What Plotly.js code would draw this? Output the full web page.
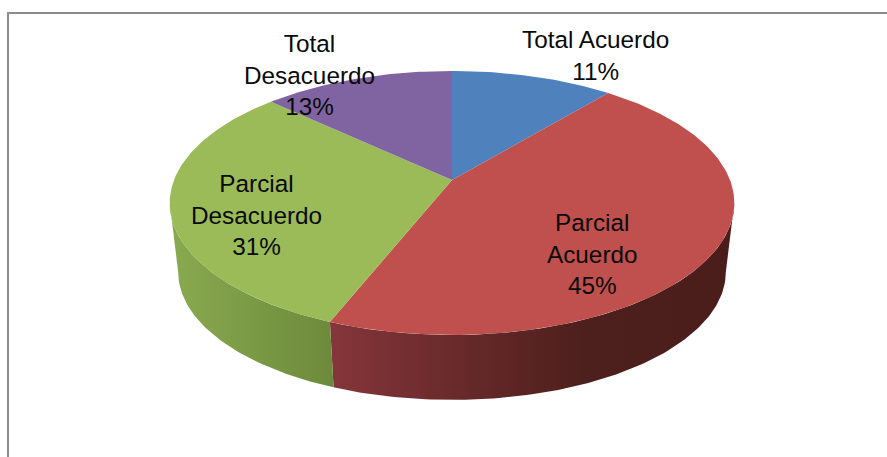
<!DOCTYPE html>
<html>
<head>
<meta charset="utf-8">
<script src="https://cdn.plot.ly/plotly-3.0.1.min.js"></script>
<style>html,body{margin:0;padding:0;background:#fff}#chart{width:887px;height:457px}</style>
</head>
<body>
<div id="chart"></div>
<script>
// Data
var categories = ['Total Acuerdo', 'Parcial Acuerdo', 'Parcial Desacuerdo', 'Total Desacuerdo'];
var values = [11, 45, 31, 13];
var labelLines = [['Total Acuerdo'], ['Parcial', 'Acuerdo'], ['Parcial', 'Desacuerdo'], ['Total', 'Desacuerdo']];

// Styling
var topColors = ['#4F81BD', '#C0504D', '#9BBB59', '#8064A2'];
var wallScales = [
  null,
  [[0, '#85363A'], [0.3, '#6A2A2B'], [0.62, '#4E201D'], [1, '#4A1D1B']],
  [[0, '#8AAA50'], [1, '#6C8A3B']],
  null
];
var labelCentres = [[595, 55], [592, 254], [256, 215], [309, 75]];

// Perspective pie projection, in pixel-scaled axis units
var cx = 452, apexY = 180, kx = 278, ky = 128, persp = 0.174;
var depth = 69.6, bottomScale = 0.97;
// The rim is widest where cos(angle) = -persp: the wall's visible span ends there
var wallFrom = Math.acos(-persp) * 180 / Math.PI, wallTo = 360 - wallFrom;

function project(deg, isBottom) {
  var t = deg * Math.PI / 180, X = Math.sin(t), Y = Math.cos(t);
  var d = 1 + persp * Y, s = isBottom ? bottomScale : 1;
  return [cx + s * kx * X / d, apexY - s * ky * Y / d + (isBottom ? depth : 0)];
}
function arc(a, b, isBottom) {
  var pts = [], n = Math.max(2, Math.ceil(Math.abs(b - a)));
  for (var i = 0; i <= n; i++) pts.push(project(a + (b - a) * i / n, isBottom));
  return pts;
}

var total = values.reduce(function (p, v) { return p + v; }, 0);
var walls = [], tops = [], annotations = [], start = 0;
values.forEach(function (v, i) {
  var end = start + v / total * 360;
  var hover = categories[i] + ': ' + v + '%';
  var a = Math.max(start, wallFrom), b = Math.min(end, wallTo);
  if (wallScales[i] && a < b) {
    var wall = arc(a, b, false).concat(arc(b, a, true));
    wall.push(wall[0]);
    walls.push({
      type: 'scatter', mode: 'lines', showlegend: false, hoverinfo: 'skip',
      x: wall.map(function (p) { return p[0]; }),
      y: wall.map(function (p) { return p[1]; }),
      fill: 'toself', line: { width: 0 },
      fillgradient: { type: 'horizontal', colorscale: wallScales[i] }
    });
  }
  var slice = [[cx, apexY]].concat(arc(start, end, false));
  slice.push([cx, apexY]);
  tops.push({
    type: 'scatter', mode: 'lines', showlegend: false, name: categories[i],
    x: slice.map(function (p) { return p[0]; }),
    y: slice.map(function (p) { return p[1]; }),
    fill: 'toself', fillcolor: topColors[i], line: { width: 0, color: topColors[i] },
    text: hover, hoverinfo: 'text', hoveron: 'fills'
  });
  annotations.push({
    xref: 'x', yref: 'y', x: labelCentres[i][0], y: labelCentres[i][1],
    text: labelLines[i].concat([v + '%']).join('<br>'),
    showarrow: false, xanchor: 'center', yanchor: 'middle', align: 'center',
    font: { family: '"Liberation Sans", Arial, sans-serif', size: 24.3, color: '#0a0a0a' }
  });
  start = end;
});

var frame = { color: '#8C8C8C', width: 2 };
var layout = {
  width: 887, height: 457,
  margin: { l: 0, r: 0, t: 0, b: 0 },
  paper_bgcolor: '#ffffff', plot_bgcolor: '#ffffff',
  showlegend: false,
  xaxis: { range: [0, 887], visible: false, fixedrange: true },
  yaxis: { range: [457, 0], visible: false, fixedrange: true },
  annotations: annotations,
  shapes: [
    { type: 'line', xref: 'x', yref: 'y', x0: 8, x1: 8, y0: 12, y1: 457, line: frame },
    { type: 'line', xref: 'x', yref: 'y', x0: 7, x1: 887, y0: 13, y1: 13, line: frame }
  ]
};
Plotly.newPlot('chart', walls.concat(tops), layout, { displayModeBar: false, responsive: false });
</script>
</body>
</html>
